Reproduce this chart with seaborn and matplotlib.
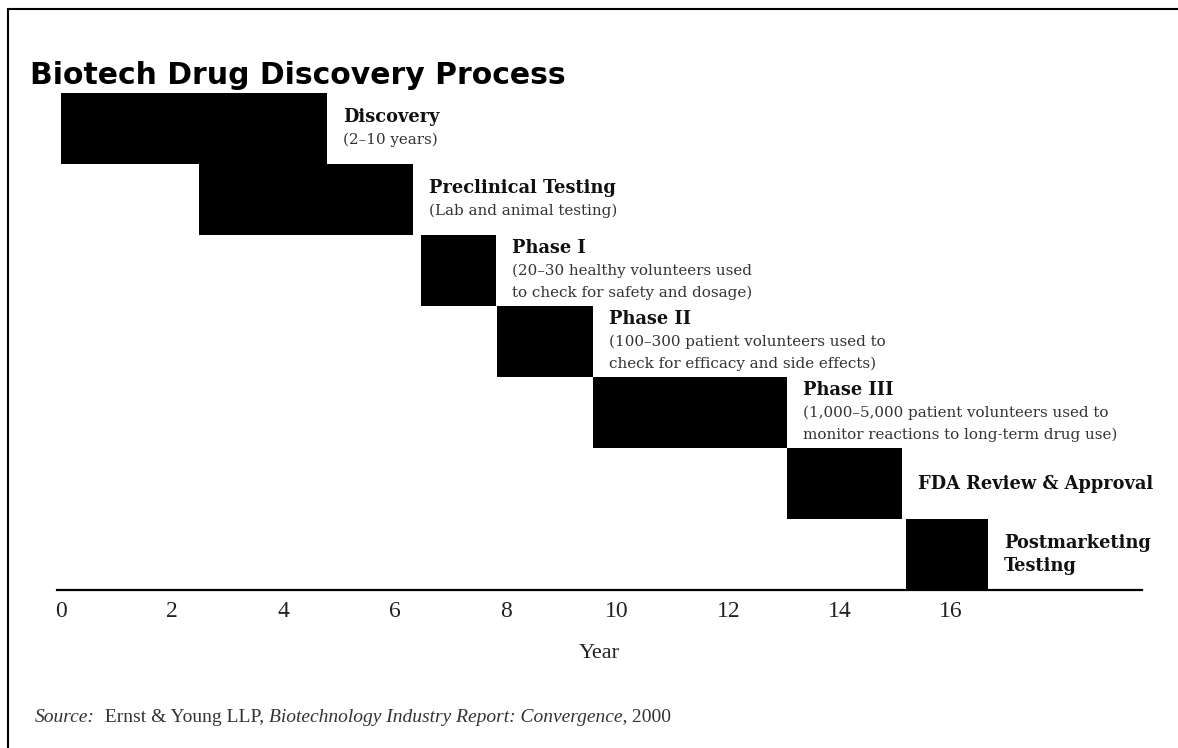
import matplotlib
matplotlib.use("Agg")
import matplotlib.pyplot as plt
from matplotlib.lines import Line2D
import pandas as pd
import seaborn as sns

# Stages of the drug pipeline and their span on the year axis
stages = [
    "Discovery",
    "Preclinical Testing",
    "Phase I",
    "Phase II",
    "Phase III",
    "FDA Review & Approval",
    "Postmarketing\nTesting",
]
start_year = [0.0, 2.48, 6.47, 7.84, 9.57, 13.06, 15.20]
end_year = [4.78, 6.33, 7.82, 9.57, 13.06, 15.13, 16.67]
notes = [
    "(2\u201310 years)",
    "(Lab and animal testing)",
    "(20\u201330 healthy volunteers used\nto check for safety and dosage)",
    "(100\u2013300 patient volunteers used to\ncheck for efficacy and side effects)",
    "(1,000\u20135,000 patient volunteers used to\nmonitor reactions to long-term drug use)",
    "",
    "",
]
year_ticks = [0, 2, 4, 6, 8, 10, 12, 14, 16]

title = "Biotech Drug Discovery Process"
x_label = "Year"
source_parts = [
    ("Source:", "italic"),
    ("  Ernst & Young LLP, ", "normal"),
    ("Biotechnology Industry Report: Convergence,", "italic"),
    (" 2000", "normal"),
]

df = pd.DataFrame({
    "stage": stages,
    "start": start_year,
    "duration": [e - s for s, e in zip(start_year, end_year)],
})

sns.set_theme(style="white")
SERIF = "DejaVu Serif"
NUM_SERIF = "Liberation Serif"

W, H, DPI = 1178, 748, 100
fig = plt.figure(figsize=(W / DPI, H / DPI), dpi=DPI)
fig.patch.set_facecolor("white")

# axes box in pixel terms: left 57, right 1142, top 93, bottom 590
ax = fig.add_axes([57 / W, 1 - 590 / H, (1142 - 57) / W, (590 - 93) / H])

sns.barplot(
    data=df, x="duration", y="stage", orient="h",
    color="black", saturation=1, width=1.0, errorbar=None,
    left=df["start"].to_numpy(), linewidth=0, ax=ax,
)

ax.set_xlim(-0.07, 19.44)
ax.set_ylim(len(stages) - 0.5, -0.5)
sns.despine(ax=ax, left=True)
ax.spines["bottom"].set_linewidth(1.6)
ax.spines["bottom"].set_color("black")
ax.set_yticks([])
ax.set_ylabel("")
ax.set_xticks(year_ticks)
ax.set_xticklabels([str(t) for t in year_ticks], family=NUM_SERIF, fontsize=17, color="#222222")
ax.tick_params(axis="x", length=0, pad=8)
ax.set_xlabel(x_label, family=NUM_SERIF, fontsize=16, color="#222222", labelpad=16)
ax.grid(False)

# stage labels to the right of each bar
line_step = 22.5
pad_px = 16
for i, (stage, note, end) in enumerate(zip(stages, notes, end_year)):
    lines = [(t, "bold") for t in stage.split("\n")]
    if note:
        lines += [(t, "normal") for t in note.split("\n")]
    n = len(lines)
    for k, (txt, weight) in enumerate(lines):
        dy = (n - 1) / 2 * line_step - k * line_step
        ax.annotate(
            txt, xy=(end, i), xytext=(pad_px, dy), textcoords="offset pixels",
            ha="left", va="center", family=SERIF,
            fontsize=12.8 if weight == "bold" else 10.9,
            fontweight=weight, color="#111111" if weight == "bold" else "#333333",
            annotation_clip=False,
        )

fig.text(30 / W, 1 - 75 / H, title, family="DejaVu Sans", fontweight="bold",
         fontsize=21.5, ha="left", va="center", color="black")

# source line built from pieces of differing style
renderer = fig.canvas.get_renderer()
x_px = 35
for txt, style in source_parts:
    t = fig.text(x_px / W, 1 - 717 / H, txt, family=NUM_SERIF, style=style,
                 fontsize=14, ha="left", va="center", color="#333333")
    bb = t.get_window_extent(renderer=renderer)
    x_px = bb.x1

# frame lines along the left and top edges
fig.add_artist(Line2D([8 / W, 8 / W], [0, 1 - 9 / H], color="black", linewidth=1.5))
fig.add_artist(Line2D([8 / W, 1], [1 - 9 / H, 1 - 9 / H], color="black", linewidth=1.5))

fig.savefig("out.png", dpi=DPI, facecolor="white")
